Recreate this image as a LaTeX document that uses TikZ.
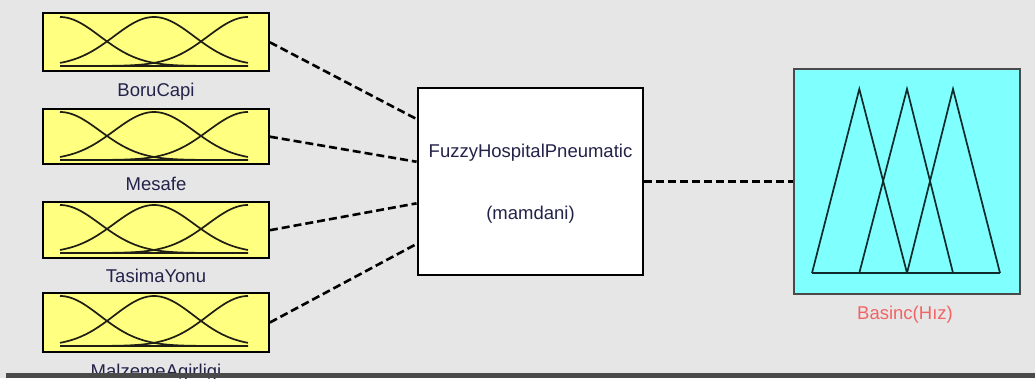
\documentclass[tikz,border=0pt]{standalone}
\usepackage{fontspec}
\setmainfont{Liberation Sans}
\usetikzlibrary{calc}
\definecolor{panelbg}{HTML}{E6E6E6}
\definecolor{inyellow}{HTML}{FFFF80}
\definecolor{outcyan}{HTML}{80FFFF}
\definecolor{labelink}{HTML}{23234A}
\definecolor{outink}{HTML}{F26464}
\definecolor{rulegray}{HTML}{4A4A4A}
\definecolor{mfink}{HTML}{1E1E14}
\definecolor{triink}{HTML}{0F2A2A}

% three gaussian membership functions between a top and a bottom level
\newcommand\gaussset[2]{%
  \draw[mfline] (60,#2) -- (248,#2);
  \foreach \m in {60,154,248}{%
    \draw[mfline] plot[domain=60:248,samples=90,smooth]
      (\x,{#2-(#2-#1)*exp(-0.5*((\x-\m)/40)^2)});
  }%
}

\begin{document}
\begin{tikzpicture}[x=1pt,y=-1pt,
  txt/.style={font=\fontsize{18.5}{22}\selectfont, text=labelink, inner sep=0pt},
  inbox/.style={draw=black, line width=1.8pt, fill=inyellow, minimum width=226pt, inner sep=0pt},
  fisbox/.style={draw=black, line width=2.8pt, fill=white, minimum width=225pt, minimum height=187pt, inner sep=0pt},
  outbox/.style={draw=rulegray, line width=2.2pt, fill=outcyan, minimum width=226pt, minimum height=225pt, inner sep=0pt},
  mfline/.style={draw=mfink, line width=1.7pt},
  triline/.style={draw=triink, line width=1.7pt, line join=miter},
  link/.style={draw=black, line width=2.6pt, dash pattern=on 8pt off 4pt}]

\useasboundingbox (0,0) rectangle (1035,378);
\fill[panelbg] (0,0) rectangle (1035,378);

% input variable blocks
\node[inbox, minimum height=58pt]   (b1) at (156,42.3)  {};
\node[inbox, minimum height=55.3pt] (b2) at (156,136.7) {};
\node[inbox, minimum height=56.3pt] (b3) at (156,230.2) {};
\node[inbox, minimum height=58.4pt] (b4) at (156,322.5) {};

\gaussset{17}{66}
\gaussset{112}{160}
\gaussset{205}{253}
\gaussset{296}{346}

\node[txt, anchor=base] (l1) at (156,96)  {BoruCapi};
\node[txt, anchor=base] (l2) at (156,190) {Mesafe};
\node[txt, anchor=base] (l3) at (156,282.3) {TasimaYonu};
\node[txt, anchor=base] (l4) at (156,377) {MalzemeAgirligi};

% inference system block
\node[fisbox] (fz) at (530.5,181.5) {};
\node[txt, anchor=base] (fzname) at (530.5,157.3) {FuzzyHospitalPneumatic};
\node[txt, anchor=base] (fztype) at (530.5,219.5) {(mamdani)};

% output variable block
\node[outbox] (out) at (907,181.5) {};
\draw[triline] (812,273) -- (1000,273);
\draw[triline] (812,273) -- (859.3,89) -- (907,273);
\draw[triline] (859.3,273) -- (907,89) -- (953,273);
\draw[triline] (907,273) -- (953,89) -- (1000,273);
\node[txt, anchor=base, text=outink] (lo) at (905,319.3) {Basinc(Hız)};

% connectors
\coordinate (i1) at ($(fz.north west)!0.171!(fz.south west)$);
\coordinate (i2) at ($(fz.north west)!0.396!(fz.south west)$);
\coordinate (i3) at ($(fz.north west)!0.615!(fz.south west)$);
\coordinate (i4) at ($(fz.north west)!0.829!(fz.south west)$);
\draw[link] (b1.east) -- (i1);
\draw[link] (b2.east) -- (i2);
\draw[link] (b3.east) -- (i3);
\draw[link] (b4.east) -- (i4);
\draw[link] (fz.east) -- (out.west);

% bottom edge of the panel
\fill[rulegray] (6,373.3) rectangle (1035,378);
\end{tikzpicture}
\end{document}
